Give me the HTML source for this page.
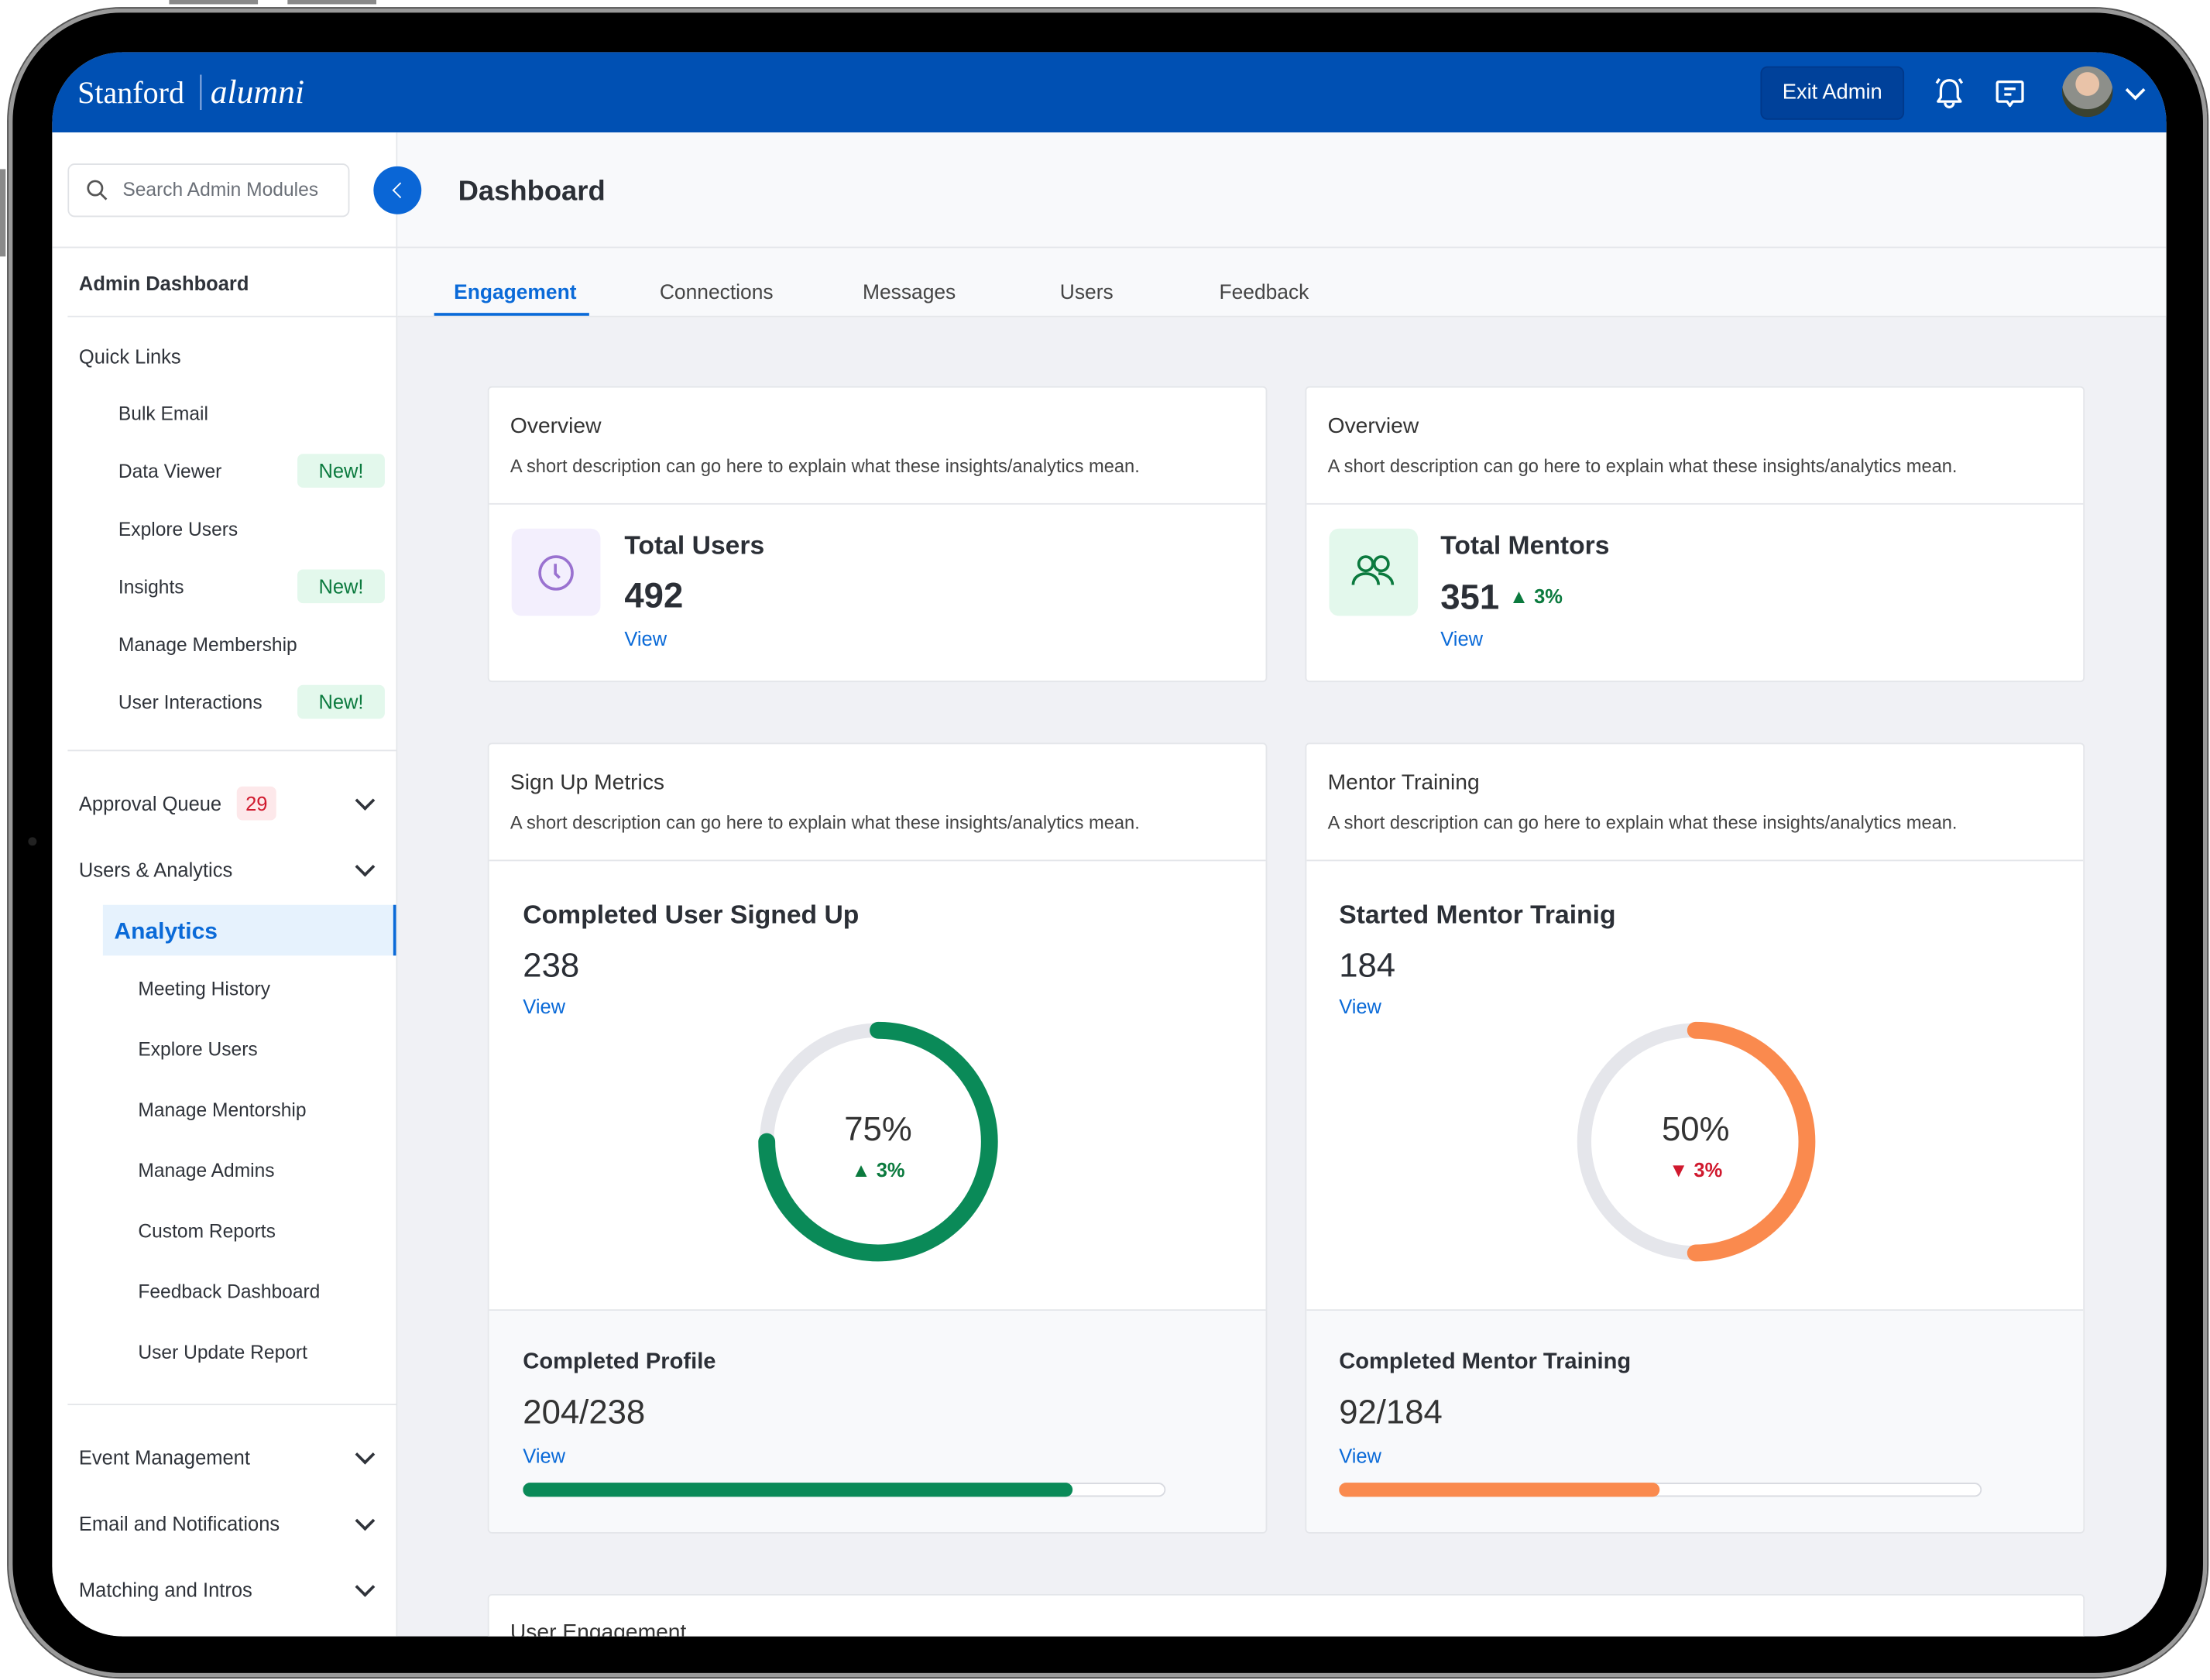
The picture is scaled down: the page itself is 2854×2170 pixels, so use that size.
<!DOCTYPE html>
<html><head><meta charset="utf-8">
<style>
html,body{margin:0;padding:0;background:#fff;width:2854px;height:2170px;overflow:hidden;}
#wrap{position:absolute;left:0;top:0;width:1568px;height:1192px;transform:scale(1.8202,1.8205);transform-origin:0 0;font-family:"Liberation Sans",sans-serif;color:#2b2f36;}
.a{position:absolute;white-space:nowrap;line-height:20px;}
.side{font-size:13.5px;color:#2f333a;}
.blue{color:#0a6ad8;}
.card{position:absolute;background:#fff;border:1px solid #e4e6ea;border-radius:3px;}
.hr{position:absolute;height:1px;background:#e4e6ea;}
.badge{position:absolute;background:#e3f8ec;color:#0b7a3e;font-size:14px;border-radius:4px;text-align:center;line-height:24px;}
.chev{position:absolute;width:8px;height:8px;border-right:2px solid #2f333a;border-bottom:2px solid #2f333a;transform:rotate(45deg);}
</style></head><body>
<div id="wrap">
  <div class="a" style="left:120px;top:0;width:63px;height:3px;background:#8a8a8a;line-height:3px"></div>
  <div class="a" style="left:204px;top:0;width:63px;height:3px;background:#8a8a8a;line-height:3px"></div>
  <div class="a" style="left:0;top:120px;width:4px;height:62px;background:#8a8a8a"></div>
  <div style="position:absolute;left:6px;top:6px;width:1560px;height:1184px;border-radius:80px;background:#000;box-shadow:0 0 0 3px #9a9a9a inset,0 0 0 1px #555;"></div>
  <div style="position:absolute;left:20px;top:594px;width:6px;height:6px;border-radius:3px;background:#222"></div>
  <div id="screen" style="position:absolute;left:37px;top:37px;width:1500px;height:1124px;border-radius:50px;overflow:hidden;background:#f0f1f5;">
    <div style="position:absolute;left:0;top:0;width:1500px;height:1124px;">
    <div style="position:absolute;left:0;top:0;width:1500px;height:57px;background:#0050b3">
      <div class="a" style="left:18px;top:16px;color:#fff;font-family:'Liberation Serif',serif;font-size:22px;line-height:26px">Stanford <span style="border-left:1px solid #9fb8e6;margin:0 6px;"></span><i style="font-size:24px">alumni</i></div>
      <div class="a" style="left:1212px;top:10px;width:100px;height:36px;background:#00419a;border:1px solid #00388a;border-radius:5px;color:#fff;font-size:15px;line-height:36px;text-align:center">Exit Admin</div>
      <svg style="position:absolute;left:1334px;top:16px" width="24" height="26" viewBox="0 0 24 26"><path d="M12 4c-4 0-6 3-6 7v5l-2 3h16l-2-3v-5c0-4-2-7-6-7z M9 20a3 3 0 0 0 6 0 M5 3l-2 3 M19 3l2 3" fill="none" stroke="#fff" stroke-width="1.8" stroke-linejoin="round"/></svg>
      <svg style="position:absolute;left:1377px;top:18px" width="24" height="24" viewBox="0 0 24 24"><path d="M4 3h16a1 1 0 0 1 1 1v12a1 1 0 0 1-1 1h-6l-2 3-2-3H4a1 1 0 0 1-1-1V4a1 1 0 0 1 1-1z M8 8h8 M8 12h5" fill="none" stroke="#fff" stroke-width="1.8" stroke-linejoin="round"/></svg>
      <div style="position:absolute;left:1426px;top:10px;width:36px;height:36px;border-radius:50%;background:radial-gradient(circle at 50% 35%,#e9c3a8 0 28%,#8d8f8a 29% 60%,#3b4230 61%)"></div>
      <div class="chev" style="left:1473px;top:22px;border-color:#fff"></div>
    </div>
    <div style="position:absolute;left:0;top:57px;width:244px;height:1067px;background:#fff;border-right:1px solid #e4e6ea"></div>
    <div style="position:absolute;left:245px;top:57px;width:1255px;height:131px;background:#f8f9fb"></div>
    <div class="hr" style="left:0;top:138px;width:1500px"></div>
    <div class="hr" style="left:245px;top:187px;width:1255px"></div>
    <div style="position:absolute;left:11px;top:79px;width:198px;height:36px;border:1px solid #e0e2e6;border-radius:5px;background:#fff">
      <svg style="position:absolute;left:12px;top:10px" width="16" height="16" viewBox="0 0 16 16"><circle cx="6.5" cy="6.5" r="5" fill="none" stroke="#555" stroke-width="1.5"/><path d="M10 10l4.5 4.5" stroke="#555" stroke-width="1.5"/></svg>
      <div class="a" style="left:38px;top:8px;font-size:13.5px;color:#6b7078">Search Admin Modules</div>
    </div>
    <div style="position:absolute;left:228px;top:81px;width:34px;height:34px;border-radius:50%;background:#0a66d6"><div style="position:absolute;left:15px;top:13px;width:7px;height:7px;border-left:1.5px solid #fff;border-bottom:1.5px solid #fff;transform:rotate(45deg)"></div></div>
    <div class="a" style="left:288px;top:86px;font-size:20px;line-height:26px;font-weight:bold;color:#2b2f36">Dashboard</div>
    <div class="a blue" style="left:285px;top:161px;font-size:14.5px;font-weight:bold">Engagement</div>
    <div style="position:absolute;left:271px;top:185px;width:110px;height:2px;background:#0a6ad8"></div>
    <div class="a" style="left:431px;top:161px;font-size:14.5px;color:#444">Connections</div>
    <div class="a" style="left:575px;top:161px;font-size:14.5px;color:#444">Messages</div>
    <div class="a" style="left:715px;top:161px;font-size:14.5px;color:#444">Users</div>
    <div class="a" style="left:828px;top:161px;font-size:14.5px;color:#444">Feedback</div>
    <div class="a side" style="left:19px;top:154px;font-weight:bold;font-size:14px">Admin Dashboard</div>
    <div class="hr" style="left:11px;top:187px;width:233px"></div>
    <div class="a side" style="left:19px;top:206px;font-size:14px">Quick Links</div>
    <div class="a side" style="left:47px;top:247px">Bulk Email</div>
    <div class="a side" style="left:47px;top:288px">Data Viewer</div>
    <div class="badge" style="left:174px;top:285px;width:62px">New!</div>
    <div class="a side" style="left:47px;top:329px">Explore Users</div>
    <div class="a side" style="left:47px;top:370px">Insights</div>
    <div class="badge" style="left:174px;top:367px;width:62px">New!</div>
    <div class="a side" style="left:47px;top:411px">Manage Membership</div>
    <div class="a side" style="left:47px;top:452px">User Interactions</div>
    <div class="badge" style="left:174px;top:449px;width:62px">New!</div>
    <div class="hr" style="left:11px;top:495px;width:233px"></div>
    <div class="a side" style="left:19px;top:523px;font-size:14px">Approval Queue</div>
    <div class="a" style="left:131px;top:521px;width:28px;height:24px;line-height:24px;background:#fde8ea;color:#d0192e;font-size:14px;text-align:center;border-radius:4px">29</div>
    <div class="chev" style="left:217px;top:526px"></div>
    <div class="a side" style="left:19px;top:570px;font-size:14px">Users &amp; Analytics</div>
    <div class="chev" style="left:217px;top:573px"></div>
    <div style="position:absolute;left:36px;top:605px;width:206px;height:36px;background:#e6f2fd;border-right:2px solid #0a6ad8"></div>
    <div class="a blue" style="left:44px;top:614px;font-size:16.5px;font-weight:bold">Analytics</div>
    <div class="a side" style="left:61px;top:655px">Meeting History</div>
    <div class="a side" style="left:61px;top:698px">Explore Users</div>
    <div class="a side" style="left:61px;top:741px">Manage Mentorship</div>
    <div class="a side" style="left:61px;top:784px">Manage Admins</div>
    <div class="a side" style="left:61px;top:827px">Custom Reports</div>
    <div class="a side" style="left:61px;top:870px">Feedback Dashboard</div>
    <div class="a side" style="left:61px;top:913px">User Update Report</div>
    <div class="hr" style="left:11px;top:959px;width:233px"></div>
    <div class="a side" style="left:19px;top:987px;font-size:14px">Event Management</div>
    <div class="chev" style="left:217px;top:990px"></div>
    <div class="a side" style="left:19px;top:1034px;font-size:14px">Email and Notifications</div>
    <div class="chev" style="left:217px;top:1037px"></div>
    <div class="a side" style="left:19px;top:1081px;font-size:14px">Matching and Intros</div>
    <div class="chev" style="left:217px;top:1084px"></div>

    <div class="card" style="left:309px;top:237px;width:551px;height:208px">
      <div class="a" style="left:15px;top:18px;font-size:15.5px;color:#333">Overview</div>
      <div class="a" style="left:15px;top:46px;font-size:13px;color:#444">A short description can go here to explain what these insights/analytics mean.</div>
      <div class="hr" style="left:0;top:82px;width:551px"></div>
      <div style="position:absolute;left:16px;top:100px;width:63px;height:62px;border-radius:7px;background:#f3effd">
        <svg style="position:absolute;left:18px;top:18px" width="27" height="27" viewBox="0 0 27 27"><circle cx="13.5" cy="13.5" r="11.5" fill="none" stroke="#9a72d0" stroke-width="2"/><path d="M13 7v7l3 3" fill="none" stroke="#9a72d0" stroke-width="2"/></svg>
      </div>
      <div class="a" style="left:96px;top:102px;font-size:18.5px;font-weight:bold;color:#2b2f36">Total Users</div>
      <div class="a" style="left:96px;top:133px;font-size:25px;line-height:30px;font-weight:bold;color:#2b2f36">492</div>
      <div class="a blue" style="left:96px;top:168px;font-size:14px">View</div>
    </div>
    <div class="card" style="left:889px;top:237px;width:551px;height:208px">
      <div class="a" style="left:15px;top:18px;font-size:15.5px;color:#333">Overview</div>
      <div class="a" style="left:15px;top:46px;font-size:13px;color:#444">A short description can go here to explain what these insights/analytics mean.</div>
      <div class="hr" style="left:0;top:82px;width:551px"></div>
      <div style="position:absolute;left:16px;top:100px;width:63px;height:62px;border-radius:7px;background:#e3f8ec">
        <svg style="position:absolute;left:15px;top:17px" width="33" height="28" viewBox="0 0 33 28"><circle cx="11" cy="8" r="5" fill="none" stroke="#0b7a3e" stroke-width="2"/><circle cx="22" cy="8" r="5" fill="none" stroke="#0b7a3e" stroke-width="2"/><path d="M2 23c0-5 4-8 9-8s9 3 9 8 M20 15c5 0 10 3 10 8" fill="none" stroke="#0b7a3e" stroke-width="2"/></svg>
      </div>
      <div class="a" style="left:95px;top:102px;font-size:18.5px;font-weight:bold;color:#2b2f36">Total Mentors</div>
      <div class="a" style="left:95px;top:133px;font-size:25px;line-height:30px;font-weight:bold;color:#2b2f36">351 <span style="font-size:14px;color:#0b7a3e;vertical-align:4px">&#9650; 3%</span></div>
      <div class="a blue" style="left:95px;top:168px;font-size:14px">View</div>
    </div>

    <div class="card" style="left:309px;top:490px;width:551px;height:559px;overflow:hidden">
      <div class="a" style="left:15px;top:18px;font-size:15.5px;color:#333">Sign Up Metrics</div>
      <div class="a" style="left:15px;top:46px;font-size:13px;color:#444">A short description can go here to explain what these insights/analytics mean.</div>
      <div class="hr" style="left:0;top:82px;width:551px"></div>
      <div class="a" style="left:24px;top:111px;font-size:18.5px;font-weight:bold">Completed User Signed Up</div>
      <div class="a" style="left:24px;top:143px;font-size:24px;line-height:30px">238</div>
      <div class="a blue" style="left:24px;top:176px;font-size:14px">View</div>
      <svg id="donut0" style="position:absolute;left:0;top:0" width="551" height="400"></svg>
      <div style="position:absolute;left:0;top:401px;width:551px;height:158px;background:#f8f9fb;border-top:1px solid #e4e6ea"></div>
      <div class="a" style="left:24px;top:429px;font-size:16px;font-weight:bold">Completed Profile</div>
      <div class="a" style="left:24px;top:460px;font-size:24px;line-height:30px;color:#333">204/238</div>
      <div class="a blue" style="left:24px;top:495px;font-size:14px">View</div>
      <svg id="bar0" style="position:absolute;left:24px;top:523px" width="458" height="14"></svg>
    </div>
    <div class="card" style="left:889px;top:490px;width:551px;height:559px;overflow:hidden">
      <div class="a" style="left:15px;top:18px;font-size:15.5px;color:#333">Mentor Training</div>
      <div class="a" style="left:15px;top:46px;font-size:13px;color:#444">A short description can go here to explain what these insights/analytics mean.</div>
      <div class="hr" style="left:0;top:82px;width:551px"></div>
      <div class="a" style="left:23px;top:111px;font-size:18.5px;font-weight:bold">Started Mentor Trainig</div>
      <div class="a" style="left:23px;top:143px;font-size:24px;line-height:30px">184</div>
      <div class="a blue" style="left:23px;top:176px;font-size:14px">View</div>
      <svg id="donut1" style="position:absolute;left:0;top:0" width="551" height="400"></svg>
      <div style="position:absolute;left:0;top:401px;width:551px;height:158px;background:#f8f9fb;border-top:1px solid #e4e6ea"></div>
      <div class="a" style="left:23px;top:429px;font-size:16px;font-weight:bold">Completed Mentor Training</div>
      <div class="a" style="left:23px;top:460px;font-size:24px;line-height:30px;color:#333">92/184</div>
      <div class="a blue" style="left:23px;top:495px;font-size:14px">View</div>
      <svg id="bar1" style="position:absolute;left:23px;top:523px" width="458" height="14"></svg>
    </div>
    <div class="card" style="left:309px;top:1094px;width:1131px;height:80px">
      <div class="a" style="left:15px;top:17px;font-size:15.5px;color:#333">User Engagement</div>
    </div>
    </div>
  </div>
</div>
<script>
const donutPercent = [75, 50];
const donutColors = ['#0a8a58', '#fa8a4e'];
const donutChange = ['3%', '3%'];
const donutUp = [true, false];
const progressDone = [204, 92];
const progressTotal = [238, 184];
const progressColors = ['#0a8a58', '#fa8a4e'];

const NS = 'http://www.w3.org/2000/svg';
function arcPath(cx, cy, r, frac) {
  const a = frac * 2 * Math.PI;
  const x = cx + r * Math.sin(a), y = cy - r * Math.cos(a);
  const large = frac > 0.5 ? 1 : 0;
  return `M${cx} ${cy - r} A${r} ${r} 0 ${large} 1 ${x.toFixed(2)} ${y.toFixed(2)}`;
}
donutPercent.forEach((p, i) => {
  const svg = document.getElementById('donut' + i);
  const cx = 276, cy = 282, r = 79;
  const track = document.createElementNS(NS, 'circle');
  
  
  track.setAttribute('cx', cx); track.setAttribute('cy', cy); track.setAttribute('r', r);
  track.setAttribute('fill', 'none'); track.setAttribute('stroke', '#e5e6eb'); track.setAttribute('stroke-width', '10');
  svg.appendChild(track);
  const arc = document.createElementNS(NS, 'path');
  
  
  arc.setAttribute('d', arcPath(cx, cy, r, Math.min(p, 99.99) / 100));
  arc.setAttribute('fill', 'none'); arc.setAttribute('stroke', donutColors[i]);
  arc.setAttribute('stroke-width', '12'); arc.setAttribute('stroke-linecap', 'round');
  svg.appendChild(arc);
  const t = document.createElementNS(NS, 'text');
  
  
  t.setAttribute('x', cx); t.setAttribute('y', cy - 1); t.setAttribute('text-anchor', 'middle');
  t.setAttribute('font-size', '24'); t.setAttribute('fill', '#333'); t.setAttribute('font-family', 'Liberation Sans, sans-serif');
  t.textContent = p + '%';
  svg.appendChild(t);
  const c = document.createElementNS(NS, 'text');
  
  
  c.setAttribute('x', cx); c.setAttribute('y', cy + 25); c.setAttribute('text-anchor', 'middle');
  c.setAttribute('font-size', '14'); c.setAttribute('font-weight', 'bold');
  c.setAttribute('fill', donutUp[i] ? '#0b7a3e' : '#d0192e'); c.setAttribute('font-family', 'Liberation Sans, sans-serif');
  c.textContent = (donutUp[i] ? '\u25B2 ' : '\u25BC ') + donutChange[i];
  svg.appendChild(c);
});
progressDone.forEach((d, i) => {
  const svg = document.getElementById('bar' + i);
  const W = 455;
  const bg = document.createElementNS(NS, 'rect');
  
  
  bg.setAttribute('x', 0.5); bg.setAttribute('y', 1.5); bg.setAttribute('width', W); bg.setAttribute('height', 9);
  bg.setAttribute('rx', 4.5); bg.setAttribute('fill', '#fff'); bg.setAttribute('stroke', '#d8dae0');
  svg.appendChild(bg);
  const fg = document.createElementNS(NS, 'rect');
  
  
  fg.setAttribute('x', 0); fg.setAttribute('y', 1); fg.setAttribute('width', (W * d / progressTotal[i]).toFixed(1));
  fg.setAttribute('height', 10); fg.setAttribute('rx', 5); fg.setAttribute('fill', progressColors[i]);
  svg.appendChild(fg);
});
</script>
</body></html>
